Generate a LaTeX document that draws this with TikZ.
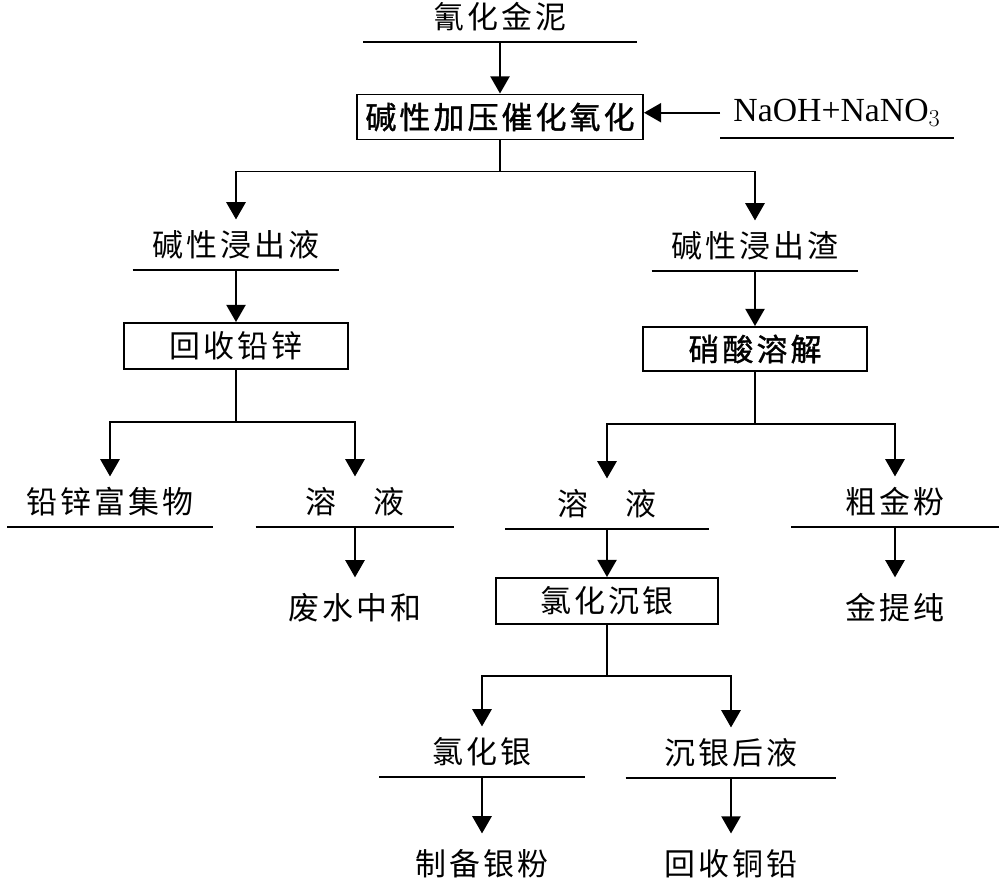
\documentclass[tikz,border=0pt]{standalone}
\usepackage{fontspec}
\setmainfont{Liberation Serif}
\newfontfamily\cjk[LetterSpace=10]{Noto Sans CJK SC}
\newfontfamily\cjkb[LetterSpace=10,FakeBold=1.2]{Noto Sans CJK SC}
\usetikzlibrary{arrows.meta}

\tikzset{
  arr/.style={-{Triangle[length=0.43cm,width=0.48cm]}, line width=1.4pt},
  box/.style={draw, line width=1.4pt, inner sep=0pt, font=\cjk\fontsize{22}{26}\selectfont},
  lbl/.style={inner sep=0pt, minimum height=1.25cm, anchor=south, font=\cjk\fontsize{22}{26}\selectfont},
  txt/.style={inner xsep=0pt, inner ysep=0.4cm, font=\cjk\fontsize{22}{26}\selectfont}
}

\begin{document}
\begin{tikzpicture}[x=0.025cm, y=-0.025cm]
        \useasboundingbox (0,0) rectangle (1000,883);

        % Feed and oxidation
        \node[lbl, minimum width=6.83cm] (mud) at (500,42) {氰化金泥};
        \node[box, minimum width=7.15cm, minimum height=1.125cm, font=\cjkb\fontsize{22}{26}\selectfont] (oxid) at (500,117) {碱性加压催化氧化};
        \node[lbl, font=\fontsize{24}{28}\selectfont, minimum width=5.83cm] (naoh) at (837,138) {NaOH+NaNO$_3$};

        % Leach products
        \node[lbl, minimum width=5.15cm] (liq1) at (236,270) {碱性浸出液};
        \node[lbl, minimum width=5.15cm] (res1) at (755,271) {碱性浸出渣};
        \node[box, minimum width=5.6cm, minimum height=1.15cm] (recov) at (236,346) {回收铅锌};
        \node[box, minimum width=5.6cm, minimum height=1.1cm, font=\cjkb\fontsize{22}{26}\selectfont] (hno3) at (755,349) {硝酸溶解};

        % Second level
        \node[lbl, minimum width=5.13cm] (pb) at (110,527) {铅锌富集物};
        \node[lbl, minimum width=4.95cm] (sol1) at (355,527) {溶　液};
        \node[lbl, minimum width=5.08cm] (sol2) at (607,529) {溶　液};
        \node[lbl, minimum width=5.18cm] (au) at (895,527) {粗金粉};
        \node[txt] (waste) at (355,608) {废水中和};
        \node[txt] (aupure) at (895,608) {金提纯};

        % Silver branch
        \node[box, minimum width=5.55cm, minimum height=1.15cm] (agppt) at (607,601) {氯化沉银};
        \node[lbl, minimum width=5.13cm] (agcl) at (482,777) {氯化银};
        \node[lbl, minimum width=5.25cm] (after) at (731,778) {沉银后液};
        \node[txt] (agpow) at (482,864) {制备银粉};
        \node[txt] (cupb) at (731,864) {回收铜铅};

        % Underlines
        \foreach \n in {mud,naoh,liq1,res1,pb,sol1,sol2,au,agcl,after}
          \draw[line width=1.4pt] (\n.south west) -- (\n.south east);

        % Split points
        \path (oxid.south) ++(0,31) coordinate (s1);
        \path (recov.south) ++(0,52) coordinate (s2);
        \path (hno3.south) ++(0,52) coordinate (s3);
        \path (agppt.south) ++(0,51) coordinate (s4);

        % Arrows
        \draw[arr] (mud.south) -- (oxid.north);
        \draw[arr] (naoh.west) -- (naoh.west -| oxid.east);
        \draw[line width=1.4pt] (oxid.south) -- (s1);
        \draw[arr] (s1) -| (liq1.north);
        \draw[arr] (s1) -| (res1.north);
        \draw[arr] (liq1.south) -- (recov.north);
        \draw[arr] (res1.south) -- (hno3.north);
        \draw[line width=1.4pt] (recov.south) -- (s2);
        \draw[arr] (s2) -| (pb.north);
        \draw[arr] (s2) -| (sol1.north);
        \draw[line width=1.4pt] (hno3.south) -- (s3);
        \draw[arr] (s3) -| (sol2.north);
        \draw[arr] (s3) -| (au.north);
        \draw[arr] (sol1.south) -- (waste.north);
        \draw[arr] (au.south) -- (aupure.north);
        \draw[arr] (sol2.south) -- (agppt.north);
        \draw[line width=1.4pt] (agppt.south) -- (s4);
        \draw[arr] (s4) -| (agcl.north);
        \draw[arr] (s4) -| (after.north);
        \draw[arr] (agcl.south) -- (agpow.north);
        \draw[arr] (after.south) -- (cupb.north);
\end{tikzpicture}
\end{document}
